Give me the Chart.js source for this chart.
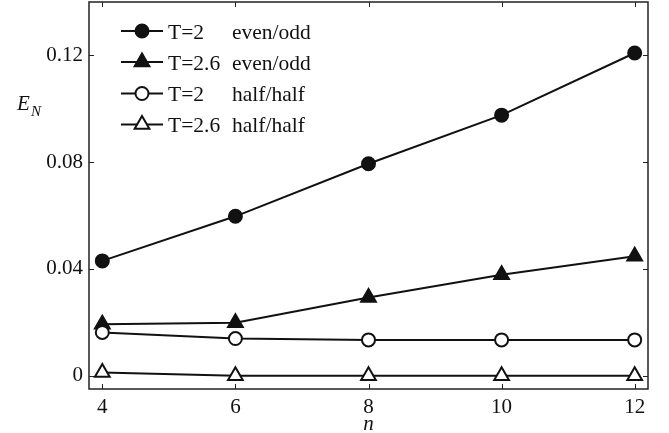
<!DOCTYPE html>
<html>
<head>
<meta charset="utf-8">
<script src="https://cdn.jsdelivr.net/npm/chart.js@4/dist/chart.umd.min.js"></script>
<style>
  html, body { margin: 0; padding: 0; background: #fff; }
  #wrap { width: 669px; height: 433px; position: relative; }
</style>
</head>
<body>
<div id="wrap"><canvas id="c" width="669" height="433"></canvas></div>
<script>
// System sizes n and logarithmic negativity E_N for each partition / temperature
const nValues = [4, 6, 8, 10, 12];
const t2EvenOdd = [0.0430, 0.0597, 0.0794, 0.0976, 0.1209];
const t26EvenOdd = [0.0193, 0.0198, 0.0293, 0.0378, 0.0447];
const t2HalfHalf = [0.0162, 0.0139, 0.0134, 0.0134, 0.0134];
const t26HalfHalf = [0.0012, 0.0000, 0.0000, 0.0000, 0.0000];

const xTicks = [4, 6, 8, 10, 12];
const xTickLabels = ['4', '6', '8', '10', '12'];
const yTicks = [0, 0.04, 0.08, 0.12];
const yTickLabels = ['0', '0.04', '0.08', '0.12'];

const legendTemps = ['T=2', 'T=2.6', 'T=2', 'T=2.6'];
const legendParts = ['even/odd', 'even/odd', 'half/half', 'half/half'];

const INK = '#111';
const SERIF = '"Liberation Serif", "Times New Roman", serif';

const styles = [
  { pointStyle: 'circle', radius: 6.5, fill: INK },
  { pointStyle: 'triangle', radius: 8.5, fill: INK },
  { pointStyle: 'circle', radius: 6.5, fill: '#fff' },
  { pointStyle: 'triangle', radius: 8.5, fill: '#fff' }
];
const seriesValues = [t2EvenOdd, t26EvenOdd, t2HalfHalf, t26HalfHalf];

const datasets = seriesValues.map((vals, i) => ({
  label: legendTemps[i] + ' ' + legendParts[i],
  data: nValues.map((n, k) => ({ x: n, y: vals[k] })),
  borderColor: INK,
  borderWidth: 2,
  tension: 0,
  fill: false,
  pointStyle: styles[i].pointStyle,
  pointRadius: styles[i].radius,
  pointHoverRadius: styles[i].radius,
  pointBackgroundColor: styles[i].fill,
  pointBorderColor: INK,
  pointBorderWidth: 2,
  order: 3 - i,
  clip: false
}));

// Box frame, inward ticks on all four sides, in-plot legend and axis titles
const framePlugin = {
  id: 'frame',
  afterDraw(chart) {
    const { ctx, chartArea: a, scales } = chart;
    ctx.save();
    ctx.strokeStyle = '#222';
    ctx.lineWidth = 1.5;
    ctx.strokeRect(a.left, a.top, a.right - a.left, a.bottom - a.top);

    ctx.lineWidth = 1;
    const tl = 5;
    ctx.beginPath();
    yTicks.forEach(v => {
      const y = Math.round(scales.y.getPixelForValue(v)) + 0.5;
      ctx.moveTo(a.left, y); ctx.lineTo(a.left + tl, y);
      ctx.moveTo(a.right, y); ctx.lineTo(a.right - tl, y);
    });
    xTicks.forEach(v => {
      const x = Math.round(scales.x.getPixelForValue(v)) + 0.5;
      ctx.moveTo(x, a.bottom); ctx.lineTo(x, a.bottom - tl);
      ctx.moveTo(x, a.top); ctx.lineTo(x, a.top + tl);
    });
    ctx.stroke();

    // legend
    const rows = [31, 62, 93.5, 124.5];
    const lineX0 = 121, lineX1 = 163, markX = 142;
    rows.forEach((ry, i) => {
      ctx.strokeStyle = INK;
      ctx.lineWidth = 2;
      ctx.beginPath();
      ctx.moveTo(lineX0, ry); ctx.lineTo(lineX1, ry);
      ctx.stroke();
      ctx.fillStyle = styles[i].fill;
      ctx.lineWidth = 2;
      Chart.helpers.drawPoint(ctx, {
        pointStyle: styles[i].pointStyle,
        radius: styles[i].radius,
        rotation: 0,
        borderWidth: 2
      }, markX, ry);
      ctx.fillStyle = INK;
      ctx.font = '21.5px ' + SERIF;
      ctx.textAlign = 'left';
      ctx.textBaseline = 'alphabetic';
      ctx.fillText(legendTemps[i], 168, ry + 7.5);
      ctx.fillText(legendParts[i], 232, ry + 7.5);
    });

    // axis titles
    ctx.fillStyle = INK;
    ctx.textBaseline = 'alphabetic';
    ctx.font = 'italic 21px ' + SERIF;
    ctx.textAlign = 'left';
    ctx.fillText('E', 17, 110);
    ctx.font = 'italic 15px ' + SERIF;
    ctx.fillText('N', 31, 116);
    ctx.font = 'italic 21px ' + SERIF;
    ctx.textAlign = 'center';
    ctx.fillText('n', (a.left + a.right) / 2, 430);
    ctx.restore();
  }
};

new Chart(document.getElementById('c'), {
  type: 'line',
  data: { datasets },
  options: {
    responsive: false,
    devicePixelRatio: 1,
    animation: false,
    events: [],
    layout: { autoPadding: false, padding: { left: 0, right: 21, top: 2, bottom: 0 } },
    plugins: { legend: { display: false }, tooltip: { enabled: false } },
    scales: {
      x: {
        type: 'linear',
        min: 3.8,
        max: 12.2,
        grid: { display: false, drawTicks: false },
        border: { display: false },
        afterBuildTicks: s => { s.ticks = xTicks.map(v => ({ value: v })); },
        afterFit: s => { s.height = 44; s.paddingLeft = 0; s.paddingRight = 0; },
        ticks: {
          padding: 6,
          color: INK,
          font: { family: SERIF, size: 21 },
          maxRotation: 0,
          autoSkip: false,
          callback: (v, i) => xTickLabels[i]
        }
      },
      y: {
        type: 'linear',
        min: -0.005,
        max: 0.14,
        grid: { display: false, drawTicks: false },
        border: { display: false },
        afterBuildTicks: s => { s.ticks = yTicks.map(v => ({ value: v })); },
        afterFit: s => { s.width = 89; s.paddingTop = 0; s.paddingBottom = 0; },
        ticks: {
          padding: 6,
          color: INK,
          font: { family: SERIF, size: 21 },
          autoSkip: false,
          callback: (v, i) => yTickLabels[i]
        }
      }
    }
  },
  plugins: [framePlugin]
});
</script>
</body>
</html>
